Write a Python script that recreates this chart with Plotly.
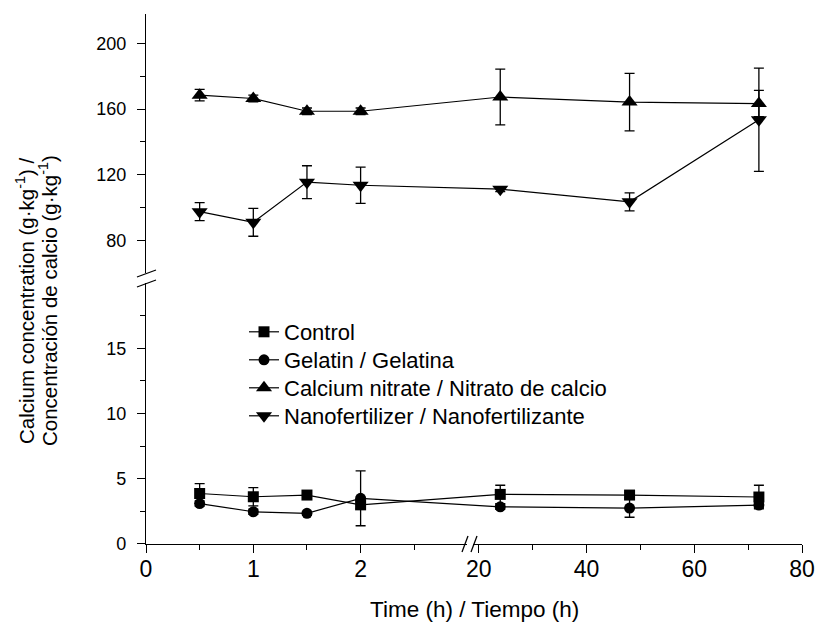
import plotly.graph_objects as go

# ---- data ----
hours = [0.5, 1, 1.5, 2, 24, 48, 72]
control = [3.87, 3.62, 3.75, 3.0, 3.8, 3.75, 3.6]
control_err = [0.75, 0.7, 0.1, 0.3, 0.7, 0.2, 0.9]
gelatin = [3.1, 2.47, 2.35, 3.5, 2.85, 2.75, 2.98]
gelatin_err = [0.2, 0.2, 0.15, 2.1, 0.2, 0.7, 0.2]
calcium_nitrate = [168.5, 166.5, 158.7, 158.7, 167.4, 164.3, 163.4]
calcium_nitrate_err = [3.5, 2, 2, 2, 17, 17.5, 8]
nanofertilizer = [97.5, 91, 115.5, 113.6, 111.2, 103.5, 153.5]
nanofertilizer_err = [5.5, 8.5, 10, 11, 1.5, 5.5, 31.5]

x_major = [0, 1, 2, 20, 40, 60, 80]
x_major_text = ["0", "1", "2", "20", "40", "60", "80"]
x_minor = [0.5, 1.5, 2.5, 30, 50, 70]

names = ["Control", "Gelatin / Gelatina",
         "Calcium nitrate / Nitrato de calcio",
         "Nanofertilizer / Nanofertilizante"]

# ---- broken x scale: 0-3 h, then 18-80 h compressed ----
BREAK_LO, BREAK_HI = 3, 18
K = 5.383 / 107.2


def xd(h):
    return h if h <= BREAK_LO else BREAK_LO + (h - BREAK_HI) * K


FONT = "Liberation Sans, Arial, sans-serif"
xs = [xd(h) for h in hours]

W = 656.0
H = 530.0


def px(xp):
    return (xp - 146) / W


def py(yp):
    return (544 - yp) / H


fig = go.Figure()


def add(y, err, name, symbol, size, yaxis, legend):
    fig.add_trace(go.Scatter(
        x=xs, y=y, name=name, mode="lines+markers", yaxis=yaxis,
        legend=legend,
        line=dict(color="black", width=1.2),
        marker=dict(symbol=symbol, size=size, color="black"),
        error_y=dict(type="data", array=err, color="black",
                     thickness=1.3, width=5),
    ))


add(control, control_err, names[0], "square", 11, "y", "legend")
add(gelatin, gelatin_err, names[1], "circle", 11, "y", "legend2")
add(calcium_nitrate, calcium_nitrate_err, names[2], "triangle-up", 14, "y2", "legend3")
add(nanofertilizer, nanofertilizer_err, names[3], "triangle-down", 14, "y2", "legend4")

axis_common = dict(showline=True, linecolor="black", linewidth=1.3,
                   ticks="outside", ticklen=8, tickwidth=1.3, tickcolor="black",
                   showgrid=False, zeroline=False, automargin=False)

ytickfont = dict(family=FONT, size=18, color="black")


def legend_at(ypix):
    return dict(x=px(244), y=py(ypix), xanchor="left", yanchor="middle",
                bgcolor="rgba(0,0,0,0)", font=dict(family=FONT, size=22, color="black"))


fig.update_layout(
    width=815, height=626,
    margin=dict(l=146, r=13, t=14, b=82, autoexpand=False),
    plot_bgcolor="white", paper_bgcolor="white",
    font=dict(family=FONT, size=18, color="black"),
    showlegend=True,
    legend=legend_at(332),
    legend2=legend_at(360),
    legend3=legend_at(388),
    legend4=legend_at(416),
    xaxis=dict(**axis_common,
               tickfont=dict(family=FONT, size=23, color="black"),
               ticklabelstandoff=-4,
               range=[0, xd(80)],
               tickvals=[xd(v) for v in x_major], ticktext=x_major_text,
               minor=dict(tickvals=[xd(v) for v in x_minor], ticklen=5,
                          tickwidth=1.3, tickcolor="black", ticks="outside")),
    yaxis=dict(**axis_common, tickfont=ytickfont, ticklabelstandoff=7,
               domain=[0, 0.4925], range=[0, 20],
               tickvals=[0, 5, 10, 15],
               minor=dict(tickvals=[2.5, 7.5, 12.5, 17.5], ticklen=5,
                          tickwidth=1.3, tickcolor="black", ticks="outside")),
    yaxis2=dict(**axis_common, tickfont=ytickfont, ticklabelstandoff=7,
                domain=[0.511, 1], range=[60, 218],
                anchor="x", tickvals=[80, 120, 160, 200],
                minor=dict(tickvals=[100, 140, 180], ticklen=5,
                           tickwidth=1.3, tickcolor="black", ticks="outside")),
)

# x-axis title
fig.add_annotation(text="Time (h) / Tiempo (h)", xref="paper", yref="paper",
                   x=0.5, y=py(609), xanchor="center", yanchor="middle",
                   showarrow=False, font=dict(family=FONT, size=22.5, color="black"))

# y-axis title (two rotated lines)
fig.add_annotation(text="Calcium concentration (g·kg<sup>-1</sup>) /",
                   xref="paper", yref="paper", x=px(25), y=py(301), textangle=-90,
                   showarrow=False, font=dict(family=FONT, size=20.5, color="black"),
                   xanchor="center", yanchor="middle")
fig.add_annotation(text="Concentración de calcio (g·kg<sup>-1</sup>)",
                   xref="paper", yref="paper", x=px(48), y=py(301), textangle=-90,
                   showarrow=False, font=dict(family=FONT, size=20.5, color="black"),
                   xanchor="center", yanchor="middle")

# ---- axis-break marks ----
fig.add_shape(type="rect", xref="paper", yref="paper",
              x0=px(467), x1=px(473), y0=py(547), y1=py(541),
              fillcolor="white", line=dict(width=0), layer="above")
for x0 in (462, 471):
    fig.add_shape(type="line", xref="paper", yref="paper",
                  x0=px(x0), x1=px(x0 + 6), y0=py(552), y1=py(536),
                  line=dict(color="black", width=1.3))
for y0 in (274, 284):
    fig.add_shape(type="line", xref="paper", yref="paper",
                  x0=px(137), x1=px(156), y0=py(y0 + 3), y1=py(y0 - 4),
                  line=dict(color="black", width=1.3))

fig.write_html("out.html", config={"displayModeBar": False},
               post_script="document.body.style.margin='0px';")
